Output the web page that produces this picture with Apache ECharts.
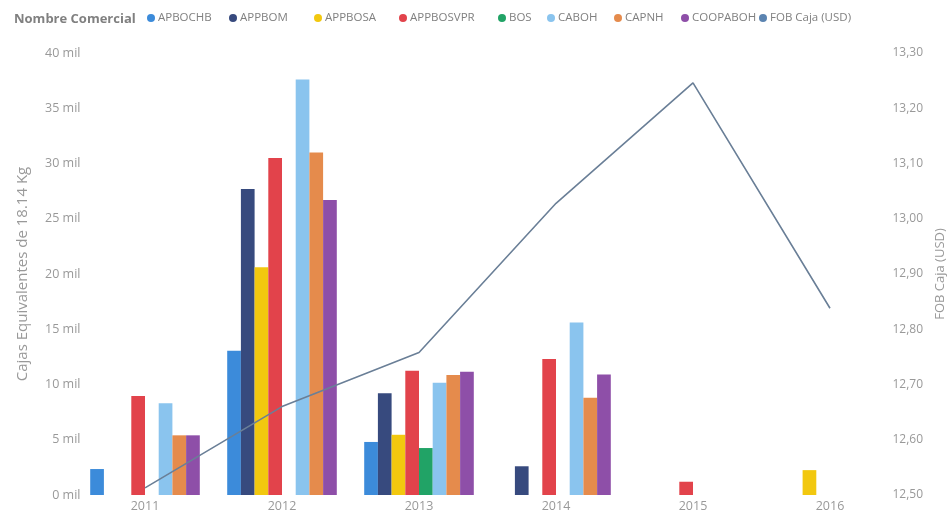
<!DOCTYPE html>
<html>
<head>
<meta charset="utf-8">
<script src="https://cdn.jsdelivr.net/npm/echarts@6/dist/echarts.min.js"></script>
<style>
html,body{margin:0;padding:0;background:#fff;}
#chart{width:947px;height:516px;}
</style>
</head>
<body>
<div id="chart"></div>
<script>
var years = ['2011', '2012', '2013', '2014', '2015', '2016'];
var APBOCHB   = [2.35, 13.05, 4.8, null, null, null];
var APPBOM    = [null, 27.7, 9.2, 2.6, null, null];
var APPBOSA   = [null, 20.6, 5.45, null, null, 2.25];
var APPBOSVPR = [8.95, 30.5, 11.25, 12.3, 1.2, null];
var BOS       = [null, null, 4.25, null, null, null];
var CABOH     = [8.3, 37.6, 10.15, 15.6, null, null];
var CAPNH     = [5.4, 31.0, 10.85, 8.8, null, null];
var COOPABOH  = [5.4, 26.7, 11.15, 10.9, null, null];
var FOB       = [12.513, 12.66, 12.758, 13.028, 13.246, 12.838];

var names  = ['APBOCHB','APPBOM','APPBOSA','APPBOSVPR','BOS','CABOH','CAPNH','COOPABOH'];
var values = [APBOCHB, APPBOM, APPBOSA, APPBOSVPR, BOS, CABOH, CAPNH, COOPABOH];
var colors = ['#3C8BDA','#374A7E','#F2C80F','#E2434B','#21A366','#8AC4EE','#E58B4C','#8E4FA8'];
var lineName = 'FOB Caja (USD)';

var font = '"Open Sans", "Segoe UI", sans-serif';
var series = names.map(function(n, i){
  return {
    name: n, type: 'bar', data: values[i].map(function(v){ return v === null ? null : v * 1000; }),
    itemStyle: {color: colors[i]}, barGap: '0%', barCategoryGap: '20%'
  };
});
series.push({
  name: lineName, type: 'line', yAxisIndex: 1, data: FOB,
  symbol: 'none', lineStyle: {color: '#6A7F97', width: 1.6}, itemStyle: {color: '#5B84B1'}
});

var legendNames = names.concat([lineName]);
var legendCenters = [151, 233, 318, 403, 502, 551, 618, 685, 763];
var legends = legendNames.map(function(n, i){
  return {
    left: legendCenters[i] - 4, top: 12, padding: 0, icon: 'circle', itemWidth: 8, itemHeight: 8,
    textStyle: {fontFamily: font, fontSize: 11.5, color: '#808080', padding: [0, 0, 0, -2]},
    data: [n]
  };
});

var chart = echarts.init(document.getElementById('chart'));
chart.setOption({
  animation: false,
  backgroundColor: '#fff',
  title: {
    text: 'Nombre Comercial', left: 9, top: 8,
    textStyle: {fontFamily: font, fontSize: 13, fontWeight: 'bold', color: '#808080'}
  },
  legend: legends,
  grid: {left: 76.5, right: 48.5, top: 53, bottom: 21, containLabel: false, outerBoundsMode: 'none'},
  xAxis: {
    type: 'category', data: years,
    axisLine: {show: false}, axisTick: {show: false},
    axisLabel: {fontFamily: font, fontSize: 12.5, color: '#999', margin: 5}
  },
  yAxis: [{
    type: 'value', min: 0, max: 40000, interval: 5000,
    name: 'Cajas Equivalentes de 18.14 Kg', nameLocation: 'middle', nameGap: 46,
    nameTextStyle: {fontFamily: font, fontSize: 15, color: '#999'},
    axisLabel: {fontFamily: font, fontSize: 12.5, color: '#999', margin: -4,
      formatter: function(v){ return (v/1000) + ' mil'; }},
    splitLine: {show: false}, axisLine: {show: false}, axisTick: {show: false}
  }, {
    type: 'value', min: 12.5, max: 13.3, interval: 0.1, position: 'right',
    name: 'FOB Caja (USD)', nameLocation: 'middle', nameGap: 34,
    nameTextStyle: {fontFamily: font, fontSize: 13, color: '#999'},
    axisLabel: {fontFamily: font, fontSize: 12, color: '#999', margin: -6,
      formatter: function(v){ return v.toFixed(2).replace('.', ','); }},
    splitLine: {show: false}, axisLine: {show: false}, axisTick: {show: false}
  }],
  series: series
});
</script>
</body>
</html>
